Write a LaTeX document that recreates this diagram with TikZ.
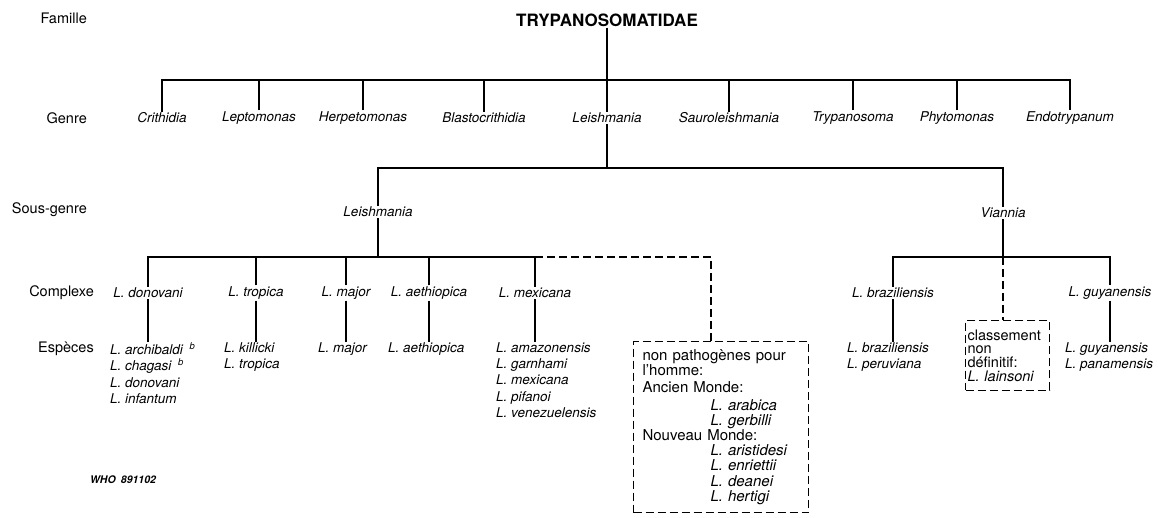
\documentclass[tikz,border=0pt]{standalone}
\usepackage{fontspec}
\setmainfont{TeX Gyre Heros}
\begin{document}
\begin{tikzpicture}[x=1pt,y=-1pt]
\tikzstyle{branch}=[draw, line width=1.1pt]
\tikzstyle{dline}=[draw, line width=1.1pt, dash pattern=on 8pt off 4pt]
\tikzstyle{rank}=[anchor=east, inner sep=0pt, font=\fontsize{14.5}{16}\selectfont]
\tikzstyle{taxon}=[inner sep=1pt, font=\itshape\fontsize{13.5}{16}\selectfont]
\tikzstyle{species}=[anchor=north west, align=left, inner sep=0pt, font=\itshape\fontsize{13.5}{16.4}\selectfont]
\tikzstyle{dbox}=[draw, line width=1.1pt, dash pattern=on 8pt off 4pt, anchor=north west, align=left]
\useasboundingbox (0,0) rectangle (1158,518);

\node[rank] (r1) at (87,18) {Famille};
\node[rank] (r2) at (87,118) {Genre};
\node[rank] (r3) at (87,210) {Sous-genre};
\node[rank] (r4) at (94,293) {Complexe};
\node[rank] (r5) at (94,349) {Espèces};

\node[font=\bfseries\fontsize{17}{18}\selectfont, inner sep=1pt] (fam) at (607,20) {TRYPANOSOMATIDAE};

\node[taxon] (g1) at (162,118) {Crithidia};
\node[taxon] (g2) at (259,118) {Leptomonas};
\node[taxon] (g3) at (363,118) {Herpetomonas};
\node[taxon] (g4) at (484,118) {Blastocrithidia};
\node[taxon] (g5) at (607,118) {Leishmania};
\node[taxon] (g6) at (729,118) {Sauroleishmania};
\node[taxon] (g7) at (853,118) {Trypanosoma};
\node[taxon] (g8) at (957,118) {Phytomonas};
\node[taxon] (g9) at (1070,118) {Endotrypanum};

\node[taxon] (sg1) at (378,212) {Leishmania};
\node[taxon] (sg2) at (1003,213) {Viannia};

\node[taxon] (c1) at (148,293) {L. donovani};
\node[taxon] (c2) at (256,293) {L. tropica};
\node[taxon] (c3) at (346,293) {L. major};
\node[taxon] (c4) at (429,293) {L. aethiopica};
\node[taxon] (c5) at (535,293) {L. mexicana};
\node[taxon] (c6) at (893,293) {L. braziliensis};
\node[taxon] (c7) at (1110,293) {L. guyanensis};

\node[species] (s1) at (110,342) {L. archibaldi\enspace\textsuperscript{b}\\L. chagasi\enspace\textsuperscript{b}\\L. donovani\\L. infantum};
\node[species] (s2) at (224,342) {L. killicki\\L. tropica};
\node[species] (s3) at (318,342) {L. major};
\node[species] (s4) at (388,342) {L. aethiopica};
\node[species] (s5) at (496,342) {L. amazonensis\\L. garnhami\\L. mexicana\\L. pifanoi\\L. venezuelensis};
\node[species] (s6) at (847,342) {L. braziliensis\\L. peruviana};
\node[species] (s7) at (1065,342) {L. guyanensis\\L. panamensis};

\node[dbox, font=\fontsize{15}{15.2}\selectfont, text width=157pt, inner xsep=9pt, inner ysep=8pt] (bx1) at (633,341) {non pathogènes pour\\l'homme:\\[2pt]Ancien Monde:\\[2pt]\hspace*{68pt}\textit{L. arabica}\\\hspace*{68pt}\textit{L. gerbilli}\\Nouveau Monde:\\\hspace*{68pt}\textit{L. aristidesi}\\\hspace*{68pt}\textit{L. enriettii}\\\hspace*{68pt}\textit{L. deanei}\\\hspace*{68pt}\textit{L. hertigi}};
\node[dbox, font=\fontsize{14.5}{13.7}\selectfont, text width=80pt, inner xsep=2pt, inner ysep=9pt] (bx2) at (965,320) {classement\\non\\définitif:\\\textit{L. lainsoni}};

\node[font=\bfseries\itshape\fontsize{10.5}{12}\selectfont, inner sep=0pt] (who) at (123,480) {WHO\enspace 891102};

\coordinate (b1) at (607,80);
\coordinate (b2) at (607,168);
\coordinate (b3) at (378,257);
\coordinate (b4) at (1003,257);
\coordinate (k1) at (711,257);

\draw[branch] (fam) -- (g5);
\draw[branch] (g1) |- (b1) -| (g9);
\draw[branch] (g2) -- (g2 |- b1);
\draw[branch] (g3) -- (g3 |- b1);
\draw[branch] (g4) -- (g4 |- b1);
\draw[branch] (g6) -- (g6 |- b1);
\draw[branch] (g7) -- (g7 |- b1);
\draw[branch] (g8) -- (g8 |- b1);

\draw[branch] (g5) -- (b2);
\draw[branch] (sg1) |- (b2) -| (sg2);

\draw[branch] (sg1) -- (b3);
\draw[branch] (c1) |- (b3) -| (c5);
\draw[branch] (c2) -- (c2 |- b3);
\draw[branch] (c3) -- (c3 |- b3);
\draw[branch] (c4) -- (c4 |- b3);
\draw[dline] (c5 |- b3) -- (k1) -- (k1 |- bx1.north);

\draw[branch] (sg2) -- (b4);
\draw[branch] (c6) |- (b4) -| (c7);
\draw[dline] (b4) -- (b4 |- bx2.north);

\draw[branch] (c1) -- (c1 |- s1.north);
\draw[branch] (c2) -- (c2 |- s2.north);
\draw[branch] (c3) -- (c3 |- s3.north);
\draw[branch] (c4) -- (c4 |- s4.north);
\draw[branch] (c5) -- (c5 |- s5.north);
\draw[branch] (c6) -- (c6 |- s6.north);
\draw[branch] (c7) -- (c7 |- s7.north);
\end{tikzpicture}
\end{document}
